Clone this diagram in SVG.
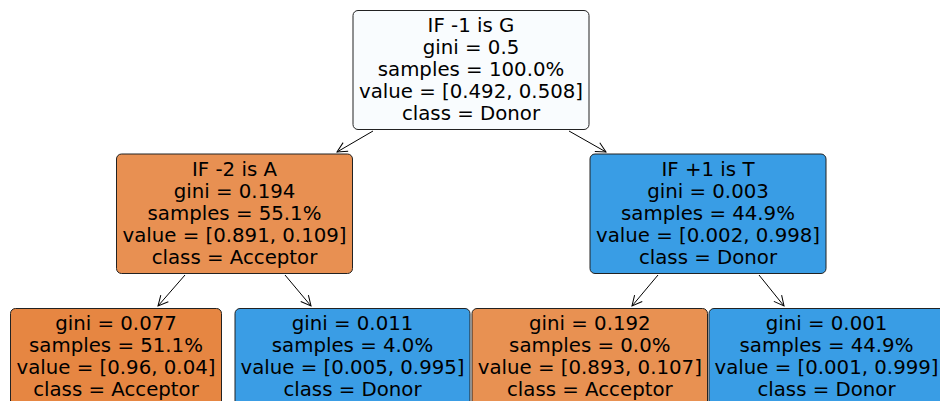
<svg xmlns="http://www.w3.org/2000/svg" width="940" height="401" viewBox="0 0 940 401">
<defs>
<marker id="arr" viewBox="0 0 12 12" refX="11" refY="6" markerWidth="12" markerHeight="12" markerUnits="userSpaceOnUse" orient="auto">
<path d="M1,1 L11,6 L1,11" fill="none" stroke="#000" stroke-width="1"/>
</marker>
</defs>
<style>
.box{stroke:#222;stroke-width:1}
text{font-family:"DejaVu Sans",sans-serif;font-size:19.75px;fill:#000;text-anchor:middle}
.edge{stroke:#000;stroke-width:1;fill:none;marker-end:url(#arr)}
</style>
<rect width="940" height="401" fill="#fff"/>
<g id="edges">
<line class="edge" x1="373" y1="131" x2="337" y2="152"/>
<line class="edge" x1="569" y1="131" x2="606" y2="152"/>
<line class="edge" x1="185" y1="275" x2="158" y2="306"/>
<line class="edge" x1="285" y1="275" x2="311" y2="306"/>
<line class="edge" x1="658" y1="275" x2="632" y2="306"/>
<line class="edge" x1="759" y1="275" x2="784" y2="306"/>
</g>
<g id="n0">
<rect class="box" x="353" y="10.5" width="236" height="119" rx="5" fill="#f9fcfe"/>
<text x="471" y="31.5">IF -1 is G</text>
<text x="471" y="53.5">gini = 0.5</text>
<text x="471" y="75.5">samples = 100.0%</text>
<text x="471" y="97.5">value = [0.492, 0.508]</text>
<text x="471" y="119.5">class = Donor</text>
</g>
<g id="n1">
<rect class="box" x="116.5" y="154" width="236" height="119.5" rx="5" fill="#e89052"/>
<text x="234.5" y="175.5">IF -2 is A</text>
<text x="234.5" y="197.5">gini = 0.194</text>
<text x="234.5" y="219.5">samples = 55.1%</text>
<text x="234.5" y="241.5">value = [0.891, 0.109]</text>
<text x="234.5" y="263.5">class = Acceptor</text>
</g>
<g id="n4">
<rect class="box" x="590" y="154" width="236" height="119.5" rx="5" fill="#399de5"/>
<text x="708" y="175.5">IF +1 is T</text>
<text x="708" y="197.5">gini = 0.003</text>
<text x="708" y="219.5">samples = 44.9%</text>
<text x="708" y="241.5">value = [0.002, 0.998]</text>
<text x="708" y="263.5">class = Donor</text>
</g>
<g id="n2">
<rect class="box" x="10.5" y="308.5" width="211" height="110" rx="5" fill="#e68642"/>
<text x="116" y="329.5">gini = 0.077</text>
<text x="116" y="351.5">samples = 51.1%</text>
<text x="116" y="373.5">value = [0.96, 0.04]</text>
<text x="116" y="395.5">class = Acceptor</text>
</g>
<g id="n3">
<rect class="box" x="235" y="308.5" width="235" height="110" rx="5" fill="#3a9de5"/>
<text x="352.5" y="329.5">gini = 0.011</text>
<text x="352.5" y="351.5">samples = 4.0%</text>
<text x="352.5" y="373.5">value = [0.005, 0.995]</text>
<text x="352.5" y="395.5">class = Donor</text>
</g>
<g id="n5">
<rect class="box" x="472" y="308.5" width="235.5" height="110" rx="5" fill="#e89152"/>
<text x="589.8" y="329.5">gini = 0.192</text>
<text x="589.8" y="351.5">samples = 0.0%</text>
<text x="589.8" y="373.5">value = [0.893, 0.107]</text>
<text x="589.8" y="395.5">class = Acceptor</text>
</g>
<g id="n6">
<rect class="box" x="709" y="308.5" width="236" height="110" rx="5" fill="#399de5"/>
<text x="826.5" y="329.5">gini = 0.001</text>
<text x="826.5" y="351.5">samples = 44.9%</text>
<text x="826.5" y="373.5">value = [0.001, 0.999]</text>
<text x="826.5" y="395.5">class = Donor</text>
</g>
</svg>
